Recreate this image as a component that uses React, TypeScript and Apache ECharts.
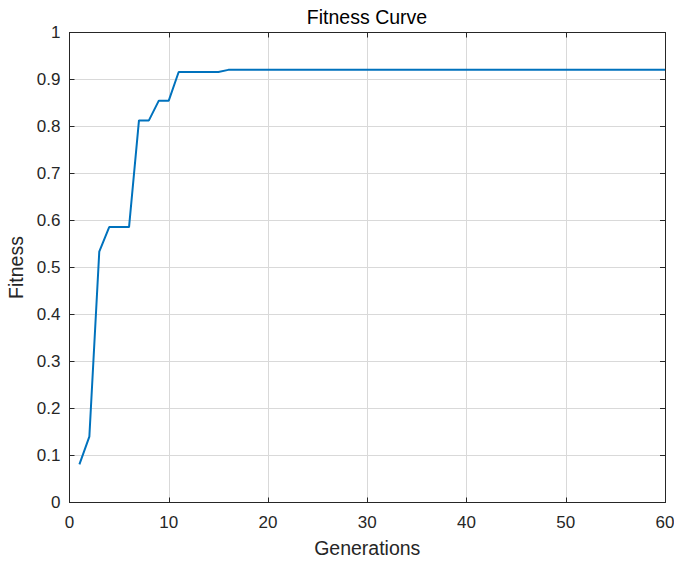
import React, { useEffect, useRef } from "react";
import * as echarts from "echarts";

const generations: number[] = Array.from({ length: 60 }, (_, i) => i + 1);
const fitnessHead: number[] = [0.081, 0.140, 0.534, 0.586, 0.586, 0.586, 0.813, 0.813, 0.855, 0.855, 0.916, 0.916, 0.916, 0.916, 0.916];
const fitnessPlateau = 0.9205;
const fitness: number[] = generations.map((g, i) => (i < fitnessHead.length ? fitnessHead[i] : fitnessPlateau));

const xTicks = [0, 10, 20, 30, 40, 50, 60];
const yTicks = [0, 0.1, 0.2, 0.3, 0.4, 0.5, 0.6, 0.7, 0.8, 0.9, 1];

const FONT = "Liberation Sans, Arial, sans-serif";
const AX = "#262626";
const GRID = "#d9d9d9";

export default function App() {
  const ref = useRef<HTMLDivElement>(null);
  useEffect(() => {
    if (!ref.current) return;
    const chart = echarts.init(ref.current, undefined, { renderer: "svg" });
    const data = generations.map((g, i) => [g, fitness[i]]);
    const baseAxis = {
      axisLine: { show: true, onZero: false, lineStyle: { color: AX, width: 1 } },
      axisTick: { show: true, inside: true, length: 5, lineStyle: { color: AX, width: 1 } },
    };
    chart.setOption({
      animation: false,
      backgroundColor: "#ffffff",
      title: {
        text: "Fitness Curve",
        left: 367,
        textAlign: "center",
        top: 7,
        padding: 0,
        textStyle: { fontFamily: FONT, fontSize: 19.5, fontWeight: "normal", color: "#000000" },
      },
      grid: { left: 69.5, right: 9, top: 32.5, bottom: 58.5, containLabel: false, outerBoundsMode: "none" },
      xAxis: [
        {
          type: "value",
          min: xTicks[0],
          max: xTicks[xTicks.length - 1],
          interval: 10,
          position: "bottom",
          name: "Generations",
          nameLocation: "middle",
          nameGap: 35,
          nameTextStyle: { fontFamily: FONT, fontSize: 19.5, color: AX },
          ...baseAxis,
          axisLabel: { fontFamily: FONT, fontSize: 17, color: AX, margin: 11 },
          splitLine: { show: true, lineStyle: { color: GRID, width: 1 } },
        },
        {
          type: "value",
          min: xTicks[0],
          max: xTicks[xTicks.length - 1],
          interval: 10,
          position: "top",
          ...baseAxis,
          axisLabel: { show: false },
          splitLine: { show: false },
        },
      ],
      yAxis: [
        {
          type: "value",
          min: yTicks[0],
          max: yTicks[yTicks.length - 1],
          interval: 0.1,
          position: "left",
          name: "Fitness",
          nameLocation: "middle",
          nameGap: 41,
          nameTextStyle: { fontFamily: FONT, fontSize: 19.5, color: AX },
          ...baseAxis,
          axisLabel: { fontFamily: FONT, fontSize: 17, color: AX, margin: 9, formatter: (v: number) => String(Math.round(v * 10) / 10) },
          splitLine: { show: true, lineStyle: { color: GRID, width: 1 } },
        },
        {
          type: "value",
          min: yTicks[0],
          max: yTicks[yTicks.length - 1],
          interval: 0.1,
          position: "right",
          ...baseAxis,
          axisLabel: { show: false },
          splitLine: { show: false },
        },
      ],
      series: [
        {
          type: "line",
          data,
          xAxisIndex: 0,
          yAxisIndex: 0,
          showSymbol: false,
          symbol: "none",
          lineStyle: { color: "#0072BD", width: 2 },
          z: 5,
        },
      ],
    });
    return () => chart.dispose();
  }, []);
  return <div ref={ref} style={{ width: 674, height: 561, position: "absolute", left: 0, top: 0 }} />;
}
